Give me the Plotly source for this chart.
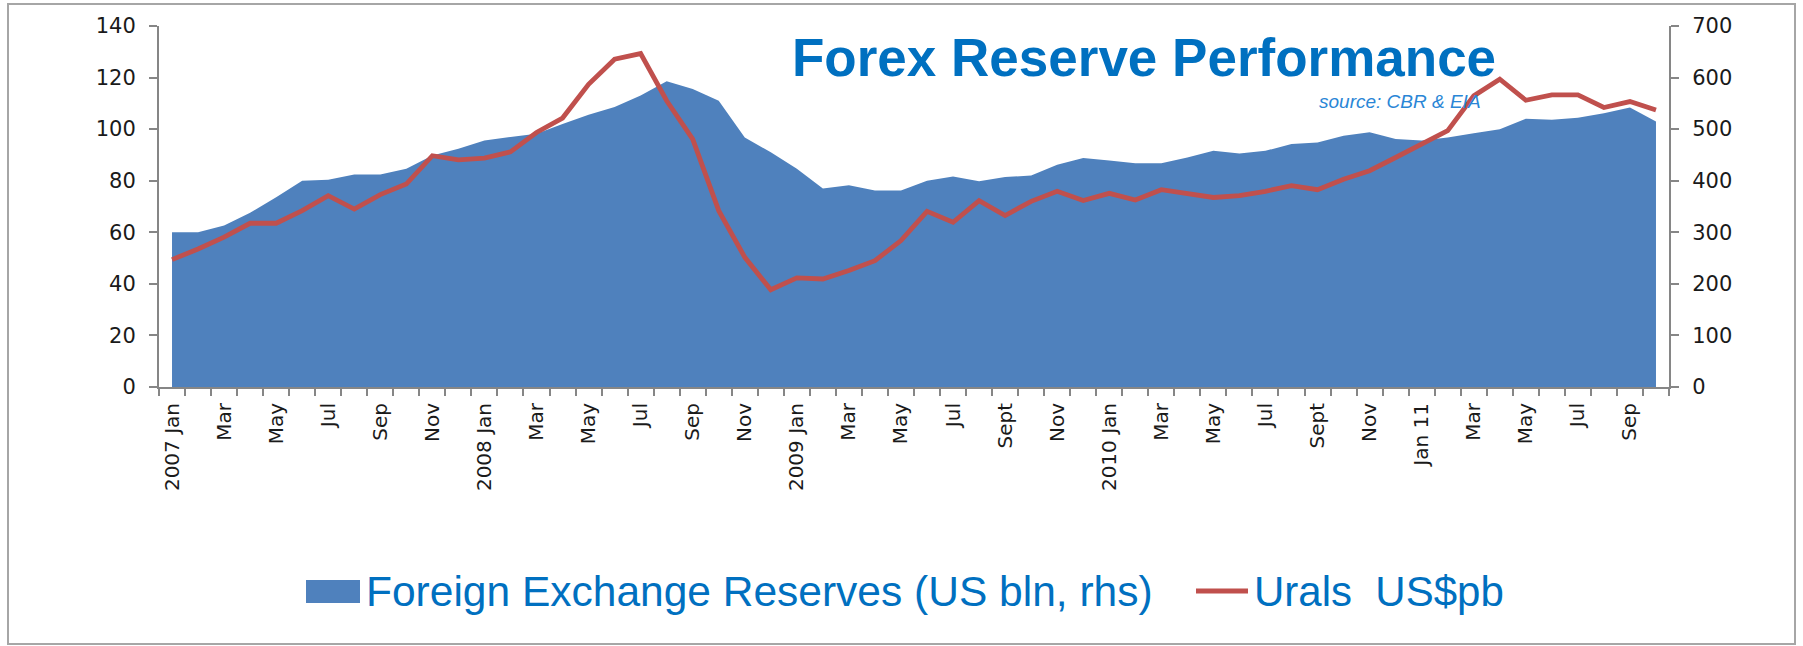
import plotly.graph_objects as go

# ---- data ----
month_names = ["Jan", "Feb", "Mar", "Apr", "May", "Jun", "Jul", "Aug", "Sep", "Oct", "Nov", "Dec"]
years = [2007, 2008, 2009, 2010, 2011]
months = [f"{m} {y}" for y in years for m in month_names][:58]  # Jan 2007 .. Oct 2011

tick_labels = ["2007 Jan", "Mar", "May", "Jul", "Sep", "Nov",
               "2008 Jan", "Mar", "May", "Jul", "Sep", "Nov",
               "2009 Jan", "Mar", "May", "Jul", "Sept", "Nov",
               "2010 Jan", "Mar", "May", "Jul", "Sept", "Nov",
               "Jan 11", "Mar", "May", "Jul", "Sep"]

# Foreign exchange reserves, US$ bln (right-hand axis)
reserves = [300, 300, 313, 338, 368, 400, 402, 412, 412, 423,
            449, 462, 478, 485, 491, 510, 528, 543, 565, 593,
            578, 555, 484, 455, 423, 385, 391, 381, 381, 400,
            408, 399, 407, 410, 431, 444, 439, 434, 434, 445,
            458, 453, 458, 471, 474, 487, 494, 481, 478, 484,
            492, 500, 520, 518, 522, 531, 542, 515]

# Urals crude, US$ per barrel (left-hand axis)
urals = [49.4, 53.5, 58.1, 63.5, 63.5, 68.4, 74.2, 69.0, 74.6, 78.7,
         89.7, 88.1, 88.8, 91.2, 98.7, 104.3, 117.4, 127.1, 129.3, 111.0,
         96.1, 68.4, 50.3, 37.7, 42.3, 41.9, 45.2, 49.0, 56.8, 68.1,
         63.9, 72.3, 66.5, 72.0, 75.9, 72.3, 75.1, 72.5, 76.5, 75.1,
         73.5, 74.2, 75.9, 78.1, 76.5, 80.6, 83.9, 89.0, 94.2, 99.4,
         112.9, 119.4, 111.2, 113.3, 113.3, 108.4, 110.7, 107.4]

series_names = ["Foreign Exchange Reserves (US bln, rhs)", "Urals  US$pb"]

x_idx = list(range(len(months)))
tick_vals = list(range(0, len(months), 2))

BLUE_TXT = "#0070C0"
AREA_COL = "#4F81BD"
LINE_COL = "#C0504D"
AXIS_COL = "#868686"
TICK_TXT = "#1A1A1A"

W, H = 1803, 646
ML, MR, MT, MB = 159, 134, 26, 259
PW, PH = W - ML - MR, H - MT - MB


def px_x(p):
    return (p - ML) / PW


def px_y(p):
    return (H - MB - p) / PH


fig = go.Figure()
fig.add_trace(go.Scatter(
    x=x_idx, y=reserves, customdata=months, name=series_names[0],
    mode="none", fill="tozeroy", fillcolor=AREA_COL, yaxis="y", showlegend=False,
    hovertemplate="%{customdata}: %{y}<extra></extra>"))
fig.add_trace(go.Scatter(
    x=x_idx, y=urals, customdata=months, name=series_names[1],
    mode="lines", line=dict(color=LINE_COL, width=4.8), yaxis="y2", showlegend=False,
    hovertemplate="%{customdata}: %{y}<extra></extra>"))

tick_font = dict(size=21, family="DejaVu Sans", color=TICK_TXT)

fig.update_layout(
    width=W, height=H,
    margin=dict(l=ML, r=MR, t=MT, b=MB),
    paper_bgcolor="white", plot_bgcolor="white",
    font=dict(family="DejaVu Sans", color=TICK_TXT),
    xaxis=dict(
        range=[-0.5, len(months) - 0.5], showgrid=False, zeroline=False,
        showline=True, linecolor=AXIS_COL, linewidth=2,
        tickmode="array", tickvals=tick_vals, ticktext=tick_labels,
        tickangle=-90, ticks="", tickfont=dict(size=20, family="DejaVu Sans", color=TICK_TXT),
        ticklabelstandoff=6,
        minor=dict(tickmode="linear", tick0=-0.5, dtick=1, ticks="outside",
                   ticklen=7, tickwidth=2, tickcolor=AXIS_COL),
    ),
    yaxis=dict(
        side="right", range=[0, 700], dtick=100, showgrid=False, zeroline=False,
        showline=True, linecolor=AXIS_COL, linewidth=2,
        ticks="outside", ticklen=8, tickwidth=2, tickcolor=AXIS_COL,
        tickfont=tick_font, ticklabelstandoff=9,
    ),
    yaxis2=dict(
        side="left", overlaying="y", range=[0, 140], dtick=20, showgrid=False, zeroline=False,
        showline=True, linecolor=AXIS_COL, linewidth=2,
        ticks="outside", ticklen=8, tickwidth=2, tickcolor=AXIS_COL,
        tickfont=tick_font, ticklabelstandoff=9,
    ),
    showlegend=False,
    annotations=[
        dict(text="<b>Forex Reserve Performance</b>", xref="paper", yref="paper",
             x=0.6526, y=0.912, xanchor="center", yanchor="middle", showarrow=False,
             font=dict(family="Liberation Sans, Arial", size=53, color=BLUE_TXT)),
        dict(text="<i>source: CBR &amp; EIA</i>", xref="paper", yref="paper",
             x=0.877, y=0.791, xanchor="right", yanchor="middle", showarrow=False,
             font=dict(family="Liberation Sans, Arial", size=19, color="#2A86D6")),
        # legend texts
        dict(text=series_names[0], xref="paper", yref="paper",
             x=px_x(364), y=px_y(591), xanchor="left", yanchor="middle", showarrow=False,
             font=dict(family="Liberation Sans, Arial", size=42.5, color=BLUE_TXT)),
        dict(text=series_names[1], xref="paper", yref="paper",
             x=px_x(1252), y=px_y(591), xanchor="left", yanchor="middle", showarrow=False,
             font=dict(family="Liberation Sans, Arial", size=42, color=BLUE_TXT)),
    ],
    shapes=[
        dict(type="rect", xref="paper", yref="paper",
             x0=px_x(8), x1=px_x(1795), y0=px_y(644), y1=px_y(4),
             line=dict(color="#A6A6A6", width=2), fillcolor="rgba(0,0,0,0)", layer="below"),
        # legend keys
        dict(type="rect", xref="paper", yref="paper",
             x0=px_x(306), x1=px_x(360), y0=px_y(603), y1=px_y(580),
             line=dict(width=0), fillcolor=AREA_COL),
        dict(type="line", xref="paper", yref="paper",
             x0=px_x(1196), x1=px_x(1248), y0=px_y(591), y1=px_y(591),
             line=dict(color=LINE_COL, width=5)),
    ],
)

fig.write_html("out.html", config={"displayModeBar": False},
               post_script="document.body.style.margin='0';document.body.style.overflow='hidden';")
